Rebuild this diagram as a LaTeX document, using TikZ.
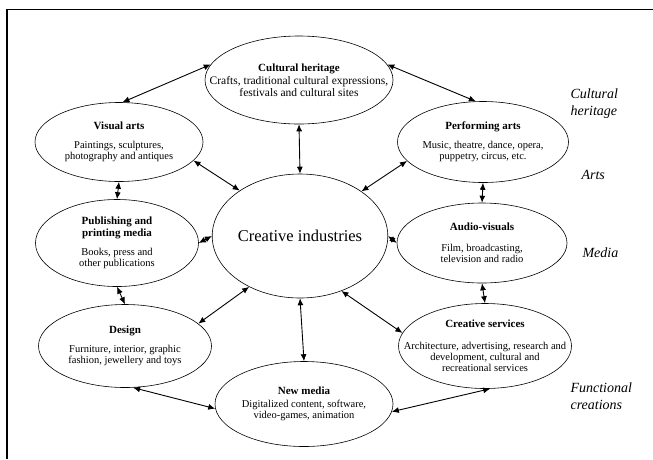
\documentclass[tikz,border=0pt]{standalone}
\usepackage{fontspec}
\setmainfont{Liberation Serif}
\usetikzlibrary{calc,positioning,shapes.geometric,arrows.meta}

\begin{document}
\begin{tikzpicture}[x=1pt,y=-1pt,
  sector/.style={draw,ellipse,inner xsep=-45pt,inner ysep=-30pt,align=center,line width=0.6pt,
    font=\fontsize{10.5}{11.2}\selectfont},
  core/.style={draw,ellipse,inner sep=0pt,line width=0.6pt,font=\fontsize{16.5}{18}\selectfont},
  group/.style={anchor=west,align=left,font=\fontsize{14}{17}\selectfont\itshape}]
\newcommand{\hfont}{\fontsize{11}{13}\selectfont\bfseries}
\useasboundingbox (0,0) rectangle (653,459);
\draw[line width=1.5pt] (7,459) -- (7,9.5) -- (653,9.5);

\node[core,minimum width=155,minimum height=124] (ci) at (300,236) {Creative industries};
\node[sector,minimum width=188,minimum height=88,font=\fontsize{11.5}{12}\selectfont] (heritage) at (299,80)
  {{\hfont Cultural heritage}\\[1pt]Crafts, traditional cultural expressions,\\festivals and cultural sites};
\node[sector,minimum width=168,minimum height=79] (visual) at (119,142)
  {{\hfont Visual arts}\\[8pt]Paintings, sculptures,\\photography and antiques};
\node[sector,minimum width=171,minimum height=81] (performing) at (483,142)
  {{\hfont Performing arts}\\[8pt]Music, theatre, dance, opera,\\puppetry, circus, etc.};
\node[sector,minimum width=163,minimum height=87] (publishing) at (117,243)
  {{\hfont Publishing and}\\{\hfont printing media}\\[8pt]Books, press and\\other publications};
\node[sector,minimum width=170,minimum height=80] (audio) at (482,243)
  {{\hfont Audio-visuals}\\[10pt]Film, broadcasting,\\television and radio};
\node[sector,minimum width=173,minimum height=83] (design) at (125,346)
  {{\hfont Design}\\[8pt]Furniture, interior, graphic\\fashion, jewellery and toys};
\node[sector,minimum width=173,minimum height=85] (services) at (485,346)
  {{\hfont Creative services}\\[10pt]Architecture, advertising, research and\\development, cultural and\\recreational services};
\node[sector,minimum width=178,minimum height=85] (newmedia) at (304,404)
  {{\hfont New media}\\[2pt]Digitalized content, software,\\video-games, animation};

\node[group] (g1) at (567,104) {Cultural\\heritage};
\node[group] (g2) at (578,175) {Arts};
\node[group] (g3) at (579,253) {Media};
\node[group] (g4) at (567,396) {Functional\\creations};

\newcommand{\drawlink}[2]{\draw[line width=0.9pt,{Latex[length=7pt,width=6pt]}-{Latex[length=7pt,width=6pt]}] (#1) -- (#2);}
\drawlink{visual.85}{heritage.170}
\drawlink{heritage.10}{performing.100}
\drawlink{heritage.south}{ci.north}
\drawlink{visual.346}{ci.143}
\drawlink{performing.194}{ci.36}
\drawlink{visual.south}{publishing.north}
\drawlink{performing.south}{audio.north}
\drawlink{publishing.east}{ci.west}
\drawlink{ci.east}{audio.west}
\drawlink{publishing.south}{design.north}
\drawlink{audio.south}{services.north}
\drawlink{design.17}{ci.225}
\drawlink{ci.307}{services.171}
\drawlink{ci.south}{newmedia.north}
\drawlink{design.281}{newmedia.183}
\drawlink{services.277}{newmedia.355}
\end{tikzpicture}
\end{document}
